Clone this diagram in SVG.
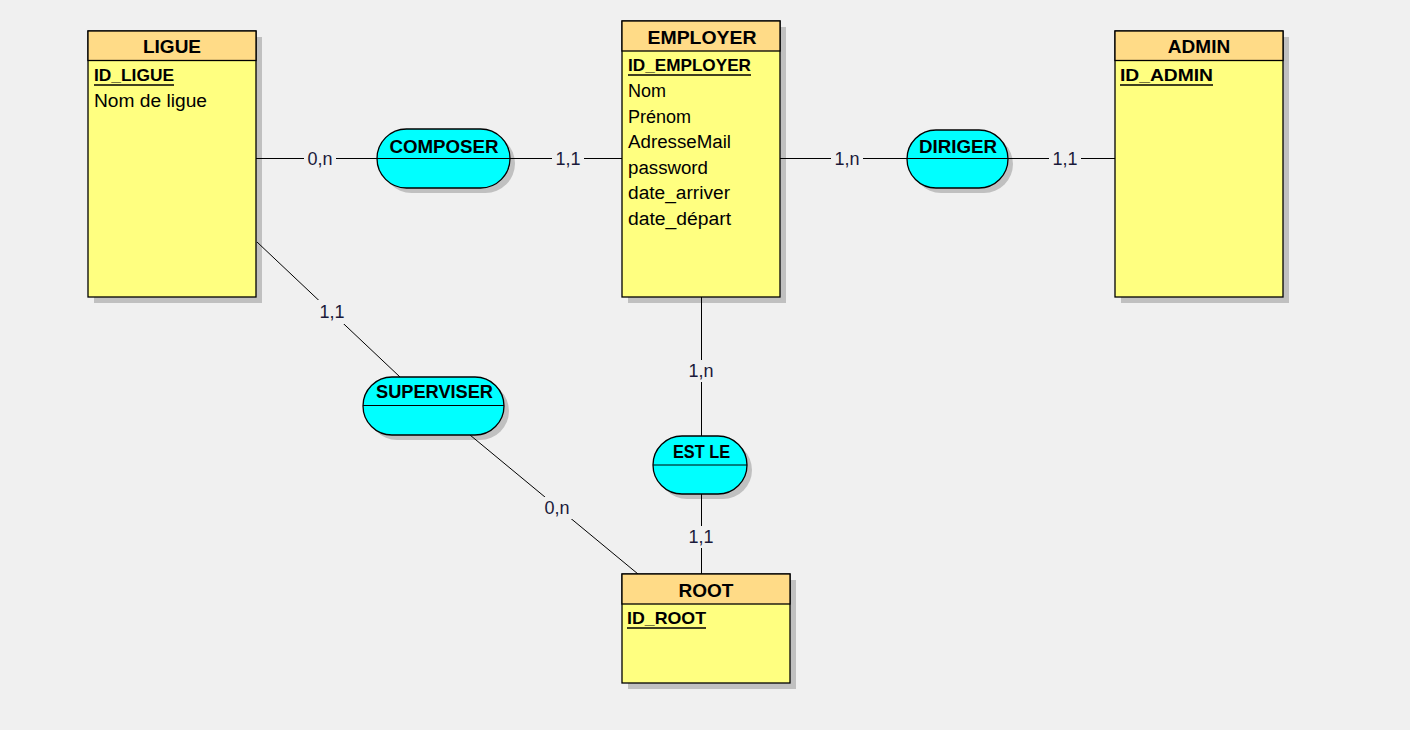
<svg xmlns="http://www.w3.org/2000/svg" width="1410" height="730" viewBox="0 0 1410 730">
<style>
.bg{fill:#f0f0f0}
.sh{fill:#c0c0c0}
.hd{fill:#ffdb87;stroke:#000;stroke-width:1.3}
.bd{fill:#ffff80;stroke:#000;stroke-width:1.3}
.as{fill:#00ffff;stroke:#000;stroke-width:1.3}
.ln{stroke:#000;stroke-width:1;fill:none}
.t{font-family:"Liberation Sans",Arial,sans-serif;fill:#000}
.h{font-size:19px;font-weight:bold;text-anchor:middle}
.k{font-size:17px;font-weight:bold}
.a{font-size:18px}
.c{font-size:18px;text-anchor:middle;fill:#1a1a3a}
.lb{fill:#f0f0f0}
.u{stroke:#000;stroke-width:1.5}
</style>
<rect class="bg" x="0" y="0" width="1410" height="730"/>

<g id="shadows">
<rect class="sh" x="94" y="37" width="168" height="266"/>
<rect class="sh" x="628" y="27" width="158" height="276"/>
<rect class="sh" x="1121" y="37" width="168" height="266"/>
<rect class="sh" x="628" y="580" width="168" height="109"/>
<rect class="sh" x="382" y="134" width="133" height="59" rx="29.5"/>
<rect class="sh" x="912" y="135" width="101" height="58" rx="29"/>
<rect class="sh" x="368" y="382" width="141" height="58" rx="29"/>
<rect class="sh" x="658" y="441" width="94" height="58" rx="29"/>
</g>

<g id="connectors">
<line class="ln" x1="256" y1="158.5" x2="377" y2="158.5"/>
<line class="ln" x1="510" y1="158.5" x2="622" y2="158.5"/>
<line class="ln" x1="780" y1="158.5" x2="907" y2="158.5"/>
<line class="ln" x1="1008" y1="158.5" x2="1115" y2="158.5"/>
<line class="ln" x1="257" y1="242" x2="400" y2="377"/>
<line class="ln" x1="470" y1="435" x2="638" y2="574"/>
<line class="ln" x1="701.5" y1="297" x2="701.5" y2="436"/>
<line class="ln" x1="701.5" y1="494" x2="701.5" y2="574"/>
<rect class="lb" x="304" y="149" width="32" height="20"/>
<rect class="lb" x="552" y="149" width="32" height="20"/>
<rect class="lb" x="831" y="149" width="32" height="20"/>
<rect class="lb" x="1049" y="149" width="32" height="20"/>
<rect class="lb" x="316" y="300" width="32" height="24"/>
<rect class="lb" x="541" y="497" width="32" height="22"/>
<rect class="lb" x="685" y="360" width="32" height="22"/>
<rect class="lb" x="685" y="526" width="32" height="22"/>
<text class="t c" x="320" y="165">0,n</text>
<text class="t c" x="568" y="165">1,1</text>
<text class="t c" x="847" y="165">1,n</text>
<text class="t c" x="1065" y="165">1,1</text>
<text class="t c" x="332" y="318">1,1</text>
<text class="t c" x="557" y="514">0,n</text>
<text class="t c" x="701" y="377">1,n</text>
<text class="t c" x="701" y="543">1,1</text>
</g>

<g id="LIGUE">
<rect class="bd" x="88" y="31" width="168" height="266"/>
<rect class="hd" x="88" y="31" width="168" height="29.5"/>
<text class="t h" x="172" y="53">LIGUE</text>
<text class="t k" x="94" y="81" textLength="80" lengthAdjust="spacingAndGlyphs">ID_LIGUE</text>
<line class="u" x1="94" y1="85" x2="174" y2="85"/>
<text class="t a" x="94" y="107" textLength="113" lengthAdjust="spacingAndGlyphs">Nom de ligue</text>
</g>

<g id="EMPLOYER">
<rect class="bd" x="622" y="21" width="158" height="276"/>
<rect class="hd" x="622" y="21" width="158" height="30"/>
<text class="t h" x="702" y="44" textLength="109" lengthAdjust="spacingAndGlyphs">EMPLOYER</text>
<text class="t k" x="628" y="71" textLength="123" lengthAdjust="spacingAndGlyphs">ID_EMPLOYER</text>
<line class="u" x1="628" y1="75" x2="751" y2="75"/>
<text class="t a" x="628" y="97">Nom</text>
<text class="t a" x="628" y="123">Prénom</text>
<text class="t a" x="628" y="148" textLength="103" lengthAdjust="spacingAndGlyphs">AdresseMail</text>
<text class="t a" x="628" y="174" textLength="80" lengthAdjust="spacingAndGlyphs">password</text>
<text class="t a" x="628" y="199" textLength="102" lengthAdjust="spacingAndGlyphs">date_arriver</text>
<text class="t a" x="628" y="225" textLength="103" lengthAdjust="spacingAndGlyphs">date_départ</text>
</g>

<g id="ADMIN">
<rect class="bd" x="1115" y="31" width="168" height="266"/>
<rect class="hd" x="1115" y="31" width="168" height="29.5"/>
<text class="t h" x="1199" y="53">ADMIN</text>
<text class="t k" x="1120" y="81" textLength="93" lengthAdjust="spacingAndGlyphs">ID_ADMIN</text>
<line class="u" x1="1120" y1="85" x2="1213" y2="85"/>
</g>

<g id="ROOT">
<rect class="bd" x="622" y="574" width="168" height="109"/>
<rect class="hd" x="622" y="574" width="168" height="30"/>
<text class="t h" x="706" y="597">ROOT</text>
<text class="t k" x="627" y="624" textLength="79" lengthAdjust="spacingAndGlyphs">ID_ROOT</text>
<line class="u" x1="627" y1="628" x2="706" y2="628"/>
</g>

<g id="COMPOSER">
<rect class="as" x="377" y="129" width="133" height="59" rx="29.5"/>
<line class="ln" x1="377" y1="158.5" x2="510" y2="158.5"/>
<text class="t h" x="444" y="153" textLength="109" lengthAdjust="spacingAndGlyphs">COMPOSER</text>
</g>

<g id="DIRIGER">
<rect class="as" x="907" y="130" width="101" height="58" rx="29"/>
<line class="ln" x1="907" y1="158.5" x2="1008" y2="158.5"/>
<text class="t h" x="958" y="153" textLength="78" lengthAdjust="spacingAndGlyphs">DIRIGER</text>
</g>

<g id="SUPERVISER">
<rect class="as" x="363" y="377" width="141" height="58" rx="29"/>
<line class="ln" x1="363" y1="405.5" x2="504" y2="405.5"/>
<text class="t h" x="434.5" y="398" textLength="117" lengthAdjust="spacingAndGlyphs">SUPERVISER</text>
</g>

<g id="EST_LE">
<rect class="as" x="653" y="436" width="94" height="58" rx="29"/>
<line class="ln" x1="653" y1="465" x2="747" y2="465"/>
<text class="t h" x="701.5" y="458" textLength="57" lengthAdjust="spacingAndGlyphs">EST LE</text>
</g>
</svg>
